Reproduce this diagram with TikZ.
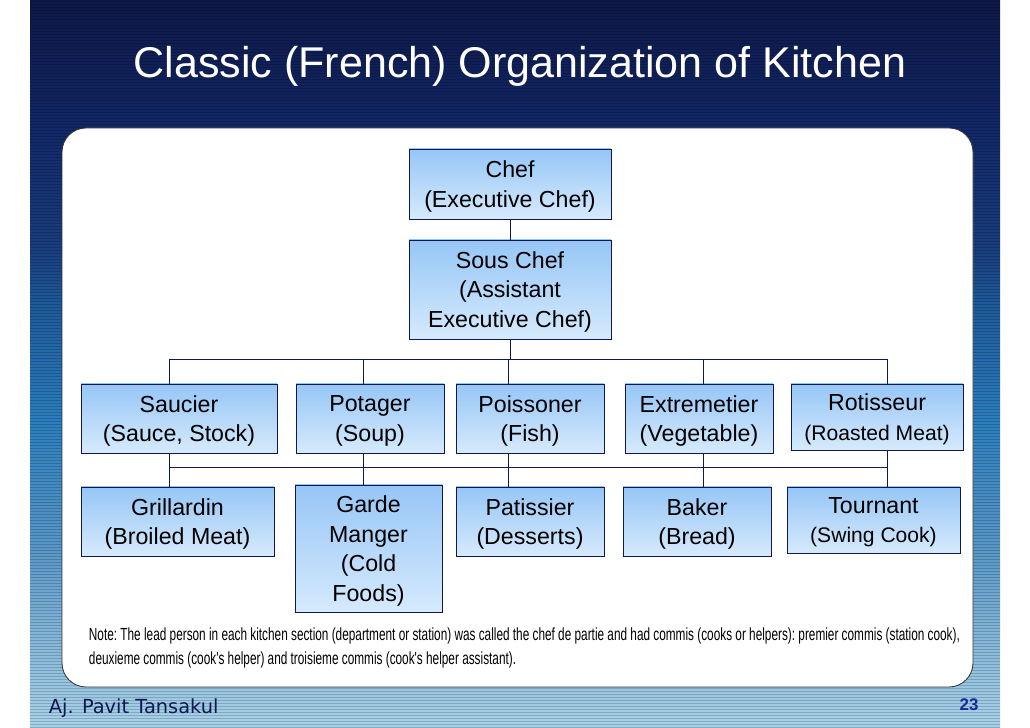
\documentclass[tikz,border=0pt]{standalone}
\usepackage{fontspec}
\setmainfont{Liberation Sans}
\newfontfamily\notefont[FakeStretch=0.672]{Liberation Sans}
\newfontfamily\footfont{DejaVu Sans}
\usepackage{xcolor}
\usepackage{tikz}

\definecolor{boxline}{HTML}{101850}
\definecolor{boxtop}{HTML}{96C6F6}
\definecolor{boxbot}{HTML}{D6EAFC}
\definecolor{footblue}{HTML}{1A2A9A}
\definecolor{bgA}{HTML}{A8D2EA}
\definecolor{bgB}{HTML}{8CBCDC}
\definecolor{bgC}{HTML}{5A98C8}
\definecolor{bgD}{HTML}{2C7EBE}
\definecolor{bgE}{HTML}{1E5A9A}
\definecolor{bgF}{HTML}{183E7E}
\definecolor{bgG}{HTML}{122868}
\definecolor{bgH}{HTML}{0E1848}

\pgfdeclareverticalshading{slidebg}{100bp}{color(0bp)=(bgA); color(25bp)=(bgA);
  color(30bp)=(bgB); color(37bp)=(bgC); color(46bp)=(bgD); color(54bp)=(bgE);
  color(58bp)=(bgF); color(66bp)=(bgG); color(75bp)=(bgH); color(100bp)=(bgH)}

\begin{document}
\begin{tikzpicture}[x=0.25mm,y=-0.25mm,
  post/.style={draw=boxline,line width=0.7pt,top color=boxtop,bottom color=boxbot,
    align=center,inner sep=0pt,font=\fontsize{16.5}{21}\selectfont,text depth=-1pt},
  small/.style={text depth=-3.5pt},
  link/.style={draw=boxline,line width=0.7pt}]
  \useasboundingbox (0,0) rectangle (1030,728);
  % slide background
  \shade[shading=slidebg] (30,0) rectangle (1000,728);
  \foreach \y in {1,4,...,727}
    \draw[black,opacity=0.18,line width=0.5pt] (30,\y) -- (1000,\y);
  \filldraw[fill=white,draw=black!80,line width=0.6pt,rounded corners=6mm] (62,128) rectangle (973,687);
  \node[white,font=\fontsize{30.6}{36}\selectfont] (title) at (520,66) {Classic (French) Organization of Kitchen};

  % chart
  \node[post,minimum width=202*0.25mm,minimum height=70*0.25mm] (chef) at (510,184) {Chef\\(Executive Chef)};
  \node[post,minimum width=202*0.25mm,minimum height=99*0.25mm] (sous) at (510,289.5) {Sous Chef\\(Assistant\\Executive Chef)};
  \node[post,minimum width=196*0.25mm,minimum height=69*0.25mm] (sauc) at (179,418.5) {Saucier\\(Sauce, Stock)};
  \node[post,minimum width=148*0.25mm,minimum height=69*0.25mm] (pota) at (370,418.5) {Potager\\(Soup)};
  \node[post,minimum width=148*0.25mm,minimum height=69*0.25mm] (pois) at (530,418.5) {Poissoner\\(Fish)};
  \node[post,minimum width=148*0.25mm,minimum height=69*0.25mm] (extr) at (699,418.5) {Extremetier\\(Vegetable)};
  \node[post,small,minimum width=172*0.25mm,minimum height=66*0.25mm] (roti) at (877,417) {Rotisseur\\{\fontsize{15}{21}\selectfont(Roasted Meat)}};
  \node[post,minimum width=193*0.25mm,minimum height=69*0.25mm] (gril) at (177.5,521.5) {Grillardin\\(Broiled Meat)};
  \node[post,minimum width=147*0.25mm,minimum height=127*0.25mm] (gard) at (368.5,548.5) {Garde\\Manger\\(Cold\\Foods)};
  \node[post,minimum width=148*0.25mm,minimum height=69*0.25mm] (pati) at (530,521.5) {Patissier\\(Desserts)};
  \node[post,minimum width=148*0.25mm,minimum height=69*0.25mm] (bake) at (697,521.5) {Baker\\(Bread)};
  \node[post,small,minimum width=173*0.25mm,minimum height=66*0.25mm] (tour) at (873.5,520) {Tournant\\{\fontsize{15}{21}\selectfont(Swing Cook)}};

  \coordinate (busA) at (0,359);
  \coordinate (busB) at (0,467);
  \coordinate (colA) at (169,0);
  \coordinate (colB) at (363,0);
  \coordinate (colC) at (508,0);
  \coordinate (colD) at (703,0);
  \coordinate (colE) at (887,0);

  \draw[link] (chef) -- (sous);
  \draw[link] (sous.south) -- (sous.south |- busA);
  \draw[link] (colA |- busA) -- (colE |- busA);
  \draw[link] (colA |- busB) -- (colE |- busB);
  \foreach \c/\up/\down in {colA/sauc/gril,colB/pota/gard,colC/pois/pati,colD/extr/bake,colE/roti/tour}{
    \draw[link] (\c |- busA) -- (\c |- \up.north);
    \draw[link] (\c |- \up.south) -- (\c |- \down.north);
  }

  \node[anchor=west,align=left,font=\notefont\fontsize{12.5}{17}\selectfont\frenchspacing] (note) at (84,648)
    {Note: The lead person in each kitchen section (department or station) was called the chef de partie and had commis (cooks or helpers): premier commis (station cook),\\
     deuxieme commis (cook's helper) and troisieme commis (cook's helper assistant).};

  % footer
  \node[anchor=west,text=boxline,font=\footfont\fontsize{13.8}{16}\selectfont] (author) at (44,708) {Aj. Pavit Tansakul};
  \node[text=footblue,font=\bfseries\fontsize{12}{14}\selectfont] (page) at (969,705) {23};
\end{tikzpicture}
\end{document}
